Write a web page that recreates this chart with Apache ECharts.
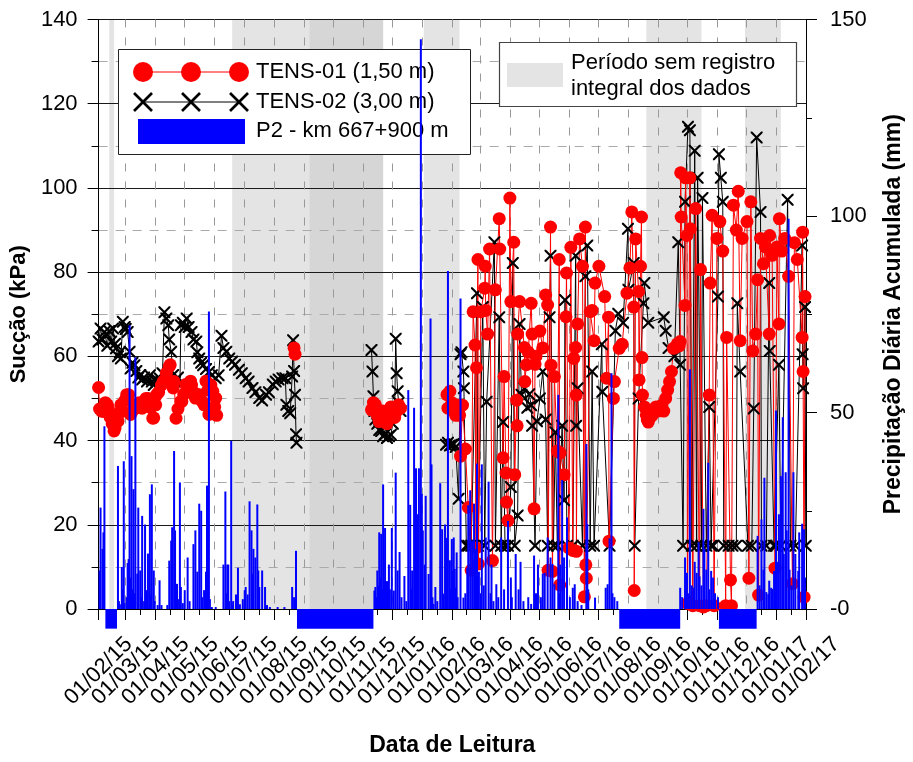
<!DOCTYPE html>
<html><head><meta charset="utf-8">
<script src="https://cdn.jsdelivr.net/npm/echarts@6/dist/echarts.min.js"></script>
<style>html,body{margin:0;padding:0;background:#fff}#c{width:913px;height:762px}</style>
</head><body><div id="c"></div>
<script>
// ---------- DATA ----------
const xStart = '2015-02-01', xEnd = '2017-02-01';
const suctionTicks = [0, 20, 40, 60, 80, 100, 120, 140];
const rainTicks = [0, 50, 100, 150];

// periods without complete record (grey bands)
const bandPeriods = [['2015-02-12','2015-02-17'],['2015-06-19','2015-11-22'],['2016-01-03','2016-02-09'],['2016-08-20','2016-10-16'],['2016-11-30','2017-01-06']];
const bandPeriodsOverlap = [['2015-09-07','2015-11-22']];
// periods without rainfall record (drawn below zero)
const rainGaps = [['2015-02-08','2015-02-20'],['2015-08-25','2015-11-12'],['2016-07-23','2016-09-24'],['2016-11-03','2016-12-12']];

// daily rainfall P2 - km 667+900 (mm)
const rain2015 = [['2015-02-02',9.8],['2015-02-03',25.8],['2015-02-05',15.3],['2015-02-06',19.5],['2015-02-07',46.5],
['2015-02-21',36.4],['2015-02-22',2],['2015-02-23',1.2],['2015-02-25',10.7],['2015-02-26',5],['2015-02-27',37.6],['2015-02-28',1.5],
['2015-03-02',3],['2015-03-03',11.7],['2015-03-04',12.7],['2015-03-05',72.2],['2015-03-06',8],['2015-03-07',38.9],['2015-03-08',5],['2015-03-09',30.5],['2015-03-10',4],['2015-03-11',64],['2015-03-13',9],['2015-03-14',25.8],['2015-03-16',9.8],['2015-03-17',3],['2015-03-18',23.7],['2015-03-20',2],['2015-03-21',21.5],['2015-03-22',4.8],['2015-03-24',14.1],['2015-03-26',29.2],['2015-03-27',3.5],['2015-03-28',31.7],['2015-03-30',9.8],['2015-03-31',2],
['2015-04-03',1],['2015-04-05',7.3],['2015-04-07',1],['2015-04-13',1],['2015-04-15',12.3],['2015-04-17',17.4],['2015-04-18',20.8],['2015-04-20',40.2],['2015-04-21',20],['2015-04-23',6.4],['2015-04-24',2.5],['2015-04-26',32.2],['2015-04-27',5.6],['2015-04-29',1.5],
['2015-05-01',4.8],['2015-05-04',13.1],['2015-05-06',2],['2015-05-10',16.5],['2015-05-12',20],['2015-05-14',9.5],['2015-05-16',26.8],['2015-05-18',25],['2015-05-19',3],['2015-05-21',4.8],['2015-05-23',9.5],['2015-05-24',31.4],['2015-05-26',75.7],['2015-05-27',2.5],['2015-05-29',0.5],
['2015-06-02',0.5],['2015-06-10',11.3],['2015-06-12',29.9],['2015-06-13',4],['2015-06-14',11.3],['2015-06-15',11.3],['2015-06-16',2],['2015-06-18',42.8],['2015-06-19',1],['2015-06-20',2],['2015-06-23',3.7],['2015-06-25',10.5],['2015-06-27',1.2],['2015-06-30',2.5],
['2015-07-02',4.8],['2015-07-03',5.6],['2015-07-05',3.7],['2015-07-07',27.4],['2015-07-09',20],['2015-07-10',9],['2015-07-11',15.3],['2015-07-13',13.1],['2015-07-15',26.6],['2015-07-16',9.8],['2015-07-17',5.6],['2015-07-20',9.8],['2015-07-23',5.6],['2015-07-25',1],['2015-07-28',0.5],
['2015-08-05',0.5],['2015-08-12',0.5],['2015-08-20',5.6],['2015-08-22',3],['2015-08-23',1.5],['2015-08-24',14.8],
['2015-11-13',4.7],['2015-11-14',5.6],['2015-11-15',3],['2015-11-16',9.8],['2015-11-17',6],['2015-11-18',19.5],['2015-11-19',8],['2015-11-20',19.1],['2015-11-21',5],['2015-11-22',31.7],['2015-11-23',7],['2015-11-24',20.6],['2015-11-25',4],['2015-11-26',7.1],['2015-11-27',3],['2015-11-28',11.3],['2015-11-29',5],
['2015-12-01',20.6],['2015-12-03',4.7],['2015-12-05',34.7],['2015-12-07',9.8],['2015-12-09',14.5],['2015-12-11',3],['2015-12-14',8.4],['2015-12-16',2],['2015-12-18',55.7],['2015-12-20',26.5],['2015-12-21',5],['2015-12-22',9.8],['2015-12-24',51.2],['2015-12-25',15],['2015-12-26',35.8],['2015-12-28',24.1],['2015-12-29',35.8],['2015-12-31',145]];
const rain2016 = [['2016-01-01',29.3],['2016-01-02',20],['2016-01-04',11.3],['2016-01-05',28.8],['2016-01-08',8.9],['2016-01-10',73.9],['2016-01-11',36.8],['2016-01-12',3],['2016-01-13',1.3],['2016-01-15',5.6],['2016-01-17',2],['2016-01-20',32],['2016-01-22',20.3],['2016-01-23',3.9],['2016-01-25',21.5],['2016-01-26',8],['2016-01-27',18.1],['2016-01-28',86],['2016-01-30',12.4],['2016-01-31',5],
['2016-02-01',17.8],['2016-02-02',9.8],['2016-02-03',18.2],['2016-02-04',10.2],['2016-02-05',5.4],['2016-02-06',14.4],['2016-02-07',3],['2016-02-10',79],['2016-02-13',2.9],['2016-02-15',4],['2016-02-17',10.5],['2016-02-18',26.4],['2016-02-20',30.2],['2016-02-22',17.4],['2016-02-24',26.8],['2016-02-26',15.3],['2016-02-27',37],['2016-02-29',9.5],
['2016-03-02',4],['2016-03-03',36.8],['2016-03-05',6],['2016-03-07',18.2],['2016-03-10',32.4],['2016-03-12',4],['2016-03-13',11.3],['2016-03-15',2],['2016-03-18',6.3],['2016-03-20',3],['2016-03-23',18.2],['2016-03-26',5],['2016-03-30',22.4],
['2016-04-02',8],['2016-04-03',3],['2016-04-07',14],['2016-04-10',5],['2016-04-12',12],['2016-04-15',2],['2016-04-20',3],['2016-04-23',1.3],['2016-04-26',13.6],['2016-04-28',4],['2016-04-30',11.3],
['2016-05-03',3],['2016-05-05',9],['2016-05-07',9.2],['2016-05-10',18.2],['2016-05-13',13.1],['2016-05-15',11.5],['2016-05-17',6.3],['2016-05-21',54.5],['2016-05-22',4],['2016-05-23',11.3],['2016-05-25',32.8],['2016-05-27',13.1],['2016-05-30',23.3],
['2016-06-02',3],['2016-06-05',5.4],['2016-06-07',6.3],['2016-06-10',2],['2016-06-14',1],['2016-06-19',42],['2016-06-20',21.6],['2016-06-21',5],['2016-06-28',2.9],
['2016-07-09',5.4],['2016-07-11',6.3],['2016-07-13',18],['2016-07-15',60],['2016-07-16',4],['2016-07-18',3],['2016-07-21',2],
['2016-09-24',5.4],['2016-09-26',3],['2016-09-29',13.1],
['2016-10-01',9.2],['2016-10-02',4],['2016-10-04',61],['2016-10-06',6],['2016-10-08',5.4],['2016-10-09',12],['2016-10-11',9.2],['2016-10-13',17],['2016-10-14',8.3],['2016-10-16',6],['2016-10-18',25.5],['2016-10-19',15.3],['2016-10-21',10],['2016-10-23',37.2],['2016-10-24',5],['2016-10-26',9.7],['2016-10-28',8],['2016-10-30',4],['2016-11-02',3],
['2016-12-13',18.6],['2016-12-15',6],['2016-12-17',22.8],['2016-12-19',10],['2016-12-20',33.4],['2016-12-22',4.3],['2016-12-24',3.8],['2016-12-25',7.2],['2016-12-27',5.4],['2016-12-28',5.1],['2016-12-30',9.7],
['2017-01-01',50.5],['2017-01-02',12],['2017-01-04',24.1],['2017-01-06',33.8],['2017-01-08',48.8],['2017-01-09',14],['2017-01-11',34.8],['2017-01-12',20],['2017-01-14',99.3],['2017-01-15',10],['2017-01-17',6],['2017-01-19',34.8],['2017-01-21',14],['2017-01-24',9.7],['2017-01-25',19.5],['2017-01-28',21.7],['2017-01-30',20.3],['2017-01-31',8]];

// TENS-01 (1,50 m) suction, kPa
const tens01A = [['2015-02-01',52.6],['2015-02-02',47.5],['2015-02-04',47],['2015-02-06',46.9],['2015-02-08',49],['2015-02-10',48.5],['2015-02-11',47.8],['2015-02-13',45.5],['2015-02-15',44],['2015-02-17',42.3],['2015-02-18',43],['2015-02-19',45.3],['2015-02-21',44.6],['2015-02-22',46.5],['2015-02-24',48.5],['2015-02-26',47],['2015-02-28',49.5],['2015-03-02',50.9],['2015-03-04',50.9],['2015-03-06',46.2],['2015-03-08',47],['2015-03-10',48.5],['2015-03-13',47.8],['2015-03-15',49],['2015-03-18',47.7],['2015-03-20',48.5],['2015-03-22',50],['2015-03-24',50],['2015-03-27',47.8],['2015-03-29',45.3],['2015-03-30',45.4],['2015-04-01',48.5],['2015-04-02',50.9],['2015-04-04',51.5],['2015-04-07',53.2],['2015-04-09',54.1],['2015-04-12',56],['2015-04-15',57.6],['2015-04-16',58],['2015-04-18',54],['2015-04-19',52.5],['2015-04-20',54],['2015-04-22',45.3],['2015-04-24',47.5],['2015-04-27',49.3],['2015-04-28',49.3],['2015-04-30',51],['2015-05-02',53.3],['2015-05-05',52],['2015-05-07',54.1],['2015-05-08',53.2],['2015-05-10',51.5],['2015-05-12',50.1],['2015-05-14',50.9],['2015-05-16',50.9],['2015-05-19',49.3],['2015-05-21',48.5],['2015-05-23',54.1],['2015-05-25',52],['2015-05-26',46.2],['2015-05-28',53.2],['2015-05-30',51.7],['2015-06-01',48],['2015-06-02',50.1],['2015-06-03',46]];
const tens01B = [['2015-08-22',62],['2015-08-23',60.5]];
const tens01C = [['2015-11-10',47.3],['2015-11-12',49],['2015-11-14',48.5],['2015-11-16',46],['2015-11-18',44.5],['2015-11-20',45],['2015-11-22',47],['2015-11-24',45.5],['2015-11-26',44],['2015-11-28',46.5],['2015-11-30',48],['2015-12-02',47],['2015-12-04',45.5],['2015-12-06',47],['2015-12-08',48.5],['2015-12-10',47.7]];
const tens01D = [['2016-01-27',50.9],['2016-01-28',47.7],['2016-01-30',51.7],['2016-02-01',49],['2016-02-03',47],['2016-02-05',46],['2016-02-07',48.4],['2016-02-09',46],['2016-02-10',36.3],['2016-02-12',48.4],['2016-02-15',38],['2016-02-18',24.1],['2016-02-21',9.2],['2016-02-23',70.6],['2016-02-25',62.7],['2016-02-26',14.5],['2016-02-26 12:00',57.3],['2016-02-28',83],['2016-02-28 12:00',10.7],
['2016-03-02',70.6],['2016-03-06',76.2],['2016-03-06 12:00',81.4],['2016-03-07',70.9],['2016-03-09',65.3],['2016-03-11',85.5],['2016-03-14',11.5],['2016-03-17',75.8],['2016-03-21',92.7],['2016-03-21 12:00',85.5],['2016-03-25',35.9],['2016-03-26',55.2],['2016-03-28',32.3],['2016-03-28 12:00',25.4],['2016-03-30',21],
['2016-04-01',97.6],['2016-04-02',73],['2016-04-05',87.1],['2016-04-06',31.9],['2016-04-08',49.6],['2016-04-08 12:00',43.5],['2016-04-09',65.3],['2016-04-11',73],['2016-04-16',62.1],['2016-04-16 12:00',54],['2016-04-18',58],['2016-04-20',61],['2016-04-23',72.6],['2016-04-24',65.3],['2016-04-26',23.8],['2016-04-27',58.1],['2016-04-28',60],
['2016-05-02',66],['2016-05-05',62],['2016-05-08',74.6],['2016-05-10',72.2],['2016-05-10 12:00',9.2],['2016-05-13',90.7],['2016-05-13 12:00',57.9],['2016-05-15',8.9],['2016-05-17',55.2],['2016-05-20',37.5],['2016-05-22',83],['2016-05-22 12:00',5.7],['2016-05-23',37.1],['2016-05-27',31.9],['2016-05-29',69.4],['2016-05-29 12:00',79.8],
['2016-06-01',14.5],['2016-06-03',85.9],['2016-06-05',13.9],['2016-06-06',59.5],['2016-06-08',62.1],['2016-06-08 12:00',50.8],['2016-06-08 18:00',13.7],['2016-06-10',67.7],['2016-06-12',87.9],['2016-06-15',81.4],['2016-06-17',2.9],['2016-06-18',90.7],['2016-06-18 12:00',10.5],['2016-06-19',7.3],['2016-06-23',70.6],['2016-06-25',70.9],['2016-06-27',63.7],['2016-06-28',77.4],
['2016-07-02',81.4],['2016-07-08',74.2],['2016-07-10',54.8],['2016-07-12',69.3],['2016-07-12 12:00',16.1],['2016-07-17',50],['2016-07-18',54],['2016-07-23',61.9],['2016-07-26',62.9],['2016-07-31',75],
['2016-08-03',81],['2016-08-05',94.3],['2016-08-07',71.7],['2016-08-07 12:00',4.4],['2016-08-09',87.9],['2016-08-12',75.4],['2016-08-12 12:00',54.4],['2016-08-14',81.4],['2016-08-15',93.1],['2016-08-15 12:00',59.7],['2016-08-16',50.8],['2016-08-18',48],['2016-08-20',46.1],['2016-08-21',45],['2016-08-22',44.4],['2016-08-24',45.5],['2016-08-26',46],['2016-08-28',47.5],['2016-08-30',48],
['2016-09-01',47],['2016-09-03',47.5],['2016-09-05',48.4],['2016-09-07',47],['2016-09-09',50],['2016-09-11',52],['2016-09-13',54],['2016-09-15',56.4],['2016-09-17',61.9],['2016-09-19',62.1],['2016-09-21',63],['2016-09-23',62.5],['2016-09-24',63.5],['2016-09-24 12:00',103.6],['2016-09-25',93.1],['2016-09-29',72.1],['2016-09-29 12:00',102.4],
['2016-10-01',88.7],['2016-10-01 12:00',1.3],['2016-10-03',1.6],['2016-10-04',102.4],['2016-10-04 12:00',90.3],['2016-10-07',0.8],['2016-10-10',95.1],['2016-10-14',0.8],['2016-10-15',80.6],['2016-10-18',0.5],['2016-10-21',0.8],['2016-10-24',50.8],['2016-10-25',77.4],['2016-10-27',93.5],['2016-10-29',0.8],
['2016-11-01',88],['2016-11-04',92],['2016-11-07',85],['2016-11-10',0.8],['2016-11-11',64.5],['2016-11-15',6.9],['2016-11-16',0.8],['2016-11-18',95.9],['2016-11-21',90],['2016-11-23',99.2],['2016-11-25',63.7],['2016-11-27',88],
['2016-12-02',92],['2016-12-04',7.3],['2016-12-06',96.7],['2016-12-08',61.3],['2016-12-11',65.3],['2016-12-13',78.2],['2016-12-14',3.3],['2016-12-16',88],['2016-12-19',82],['2016-12-21',86],['2016-12-25',65.3],['2016-12-25 12:00',88.7],['2016-12-28',84],['2016-12-31',9.7],
['2017-01-02',86],['2017-01-04',67.7],['2017-01-04 12:00',92.7],['2017-01-07',85],['2017-01-10',88],['2017-01-14',79],['2017-01-18',6],['2017-01-20',87],['2017-01-23',83],['2017-01-28',64.5],['2017-01-28 12:00',89.5],['2017-01-29',56.4],['2017-01-30',2.8],['2017-01-31',74.2]];

// TENS-02 (3,00 m) suction, kPa
const tens02A = [['2015-02-01',63.5],['2015-02-03',66.6],['2015-02-05',64],['2015-02-07',65.8],['2015-02-10',62.5],['2015-02-12',66],['2015-02-14',63.5],['2015-02-16',66.6],['2015-02-18',63],['2015-02-19',61.9],['2015-02-21',60],['2015-02-23',61],['2015-02-24',59.5],['2015-02-26',68.2],['2015-02-28',67],['2015-03-01',66.5],['2015-03-03',65.8],['2015-03-05',61.1],['2015-03-06',57.1],['2015-03-08',58.5],['2015-03-10',57.9],['2015-03-12',56.5],['2015-03-14',55],['2015-03-16',55.6],['2015-03-18',54.5],['2015-03-20',55],['2015-03-23',54],['2015-03-26',55.5],['2015-03-28',54],['2015-03-30',53.2],['2015-04-02',54.5],['2015-04-05',54.8],['2015-04-08',56],['2015-04-10',70.5],['2015-04-12',69],['2015-04-14',67.4],['2015-04-15',64],['2015-04-17',61.1],['2015-04-19',55.6],['2015-04-21',54],['2015-04-24',55],['2015-04-26',53.2],['2015-04-27',67.4],['2015-04-29',68],['2015-05-01',67],['2015-05-03',69],['2015-05-05',67],['2015-05-08',65.8],['2015-05-10',64],['2015-05-13',63.5],['2015-05-14',61],['2015-05-16',59.5],['2015-05-18',58.5],['2015-05-20',57.9],['2015-05-23',57],['2015-05-26',56.3],['2015-05-29',55.5],['2015-06-02',54.8],['2015-06-05',55.5],['2015-06-08',64.9],['2015-06-10',62],['2015-06-13',61.1],['2015-06-16',59.5],['2015-06-19',58.8],['2015-06-22',58],['2015-06-26',56.8],['2015-06-29',56],['2015-07-03',54.8],['2015-07-06',54],['2015-07-10',52.5],['2015-07-13',51.5],['2015-07-17',50.1],['2015-07-20',49.5],['2015-07-24',50.9],['2015-07-27',51.5],['2015-07-31',53.3],['2015-08-03',54],['2015-08-06',54.5],['2015-08-10',54.8],['2015-08-13',54.8],['2015-08-14',48.5],['2015-08-16',47],['2015-08-18',46.5],['2015-08-20',55.2],['2015-08-21',63.8],['2015-08-22',56.5],['2015-08-23',50.9],['2015-08-24',41.5],['2015-08-24 12:00',39.5]];
const tens02C = [['2015-11-10',61.5],['2015-11-11',56.4],['2015-11-12',50.5],['2015-11-13',47],['2015-11-14',45],['2015-11-16',44],['2015-11-18',42.5],['2015-11-20',42.3],['2015-11-22',41],['2015-11-24',41.5],['2015-11-26',40.6],['2015-11-28',41],['2015-11-30',41.4],['2015-12-02',44],['2015-12-04',47],['2015-12-05',64.2],['2015-12-06',56],['2015-12-07',51.7],['2015-12-08',49],['2015-12-10',47]];
const tens02D = [['2016-01-26',39],['2016-01-28',39.5],['2016-01-30',38.8],['2016-02-01',39],['2016-02-03',39.2],['2016-02-05',38.5],['2016-02-08',26.2],['2016-02-10',60.5],['2016-02-11',61],['2016-02-13',56.4],['2016-02-13 12:00',52.4],['2016-02-16',15],['2016-02-18',15],['2016-02-21',15],['2016-02-23',15],['2016-02-27',75],['2016-02-28',15],
['2016-03-04',71.7],['2016-03-06',15],['2016-03-08',49.2],['2016-03-16',87.1],['2016-03-17',15],['2016-03-21',69.3],['2016-03-23',15],['2016-03-25',44.4],['2016-03-27',15],['2016-03-30',15],
['2016-04-02',29],['2016-04-04',82.2],['2016-04-06',15],['2016-04-09',22.2],['2016-04-11',67.7],['2016-04-13',50.9],['2016-04-16',52.4],['2016-04-19',47.8],['2016-04-21',51],['2016-04-23',48.4],['2016-04-24',43.5],['2016-04-27',15],['2016-04-29',44.6],
['2016-05-02',50],['2016-05-05',56.4],['2016-05-08',45],['2016-05-10',15],['2016-05-12',69.3],['2016-05-13',83.9],['2016-05-16',15],['2016-05-18',42],['2016-05-20',15],['2016-05-25',43.5],['2016-05-27',25.8],['2016-05-28',73.4],['2016-05-30',15],
['2016-06-05',15],['2016-06-08',83.9],['2016-06-08 12:00',43.5],['2016-06-10',52.4],['2016-06-15',15],['2016-06-18',79],['2016-06-20',86.3],['2016-06-23',15],['2016-06-25',56.4],['2016-06-27',15],
['2016-07-05',62.9],['2016-07-05 12:00',51.6],['2016-07-13',15],['2016-07-19',66.1],['2016-07-22',70.1],['2016-07-27',68],
['2016-08-01',90.3],['2016-08-01 12:00',75.8],['2016-08-07',82.2],['2016-08-08',15],['2016-08-12',50],['2016-08-17',72.6],['2016-08-18',77.4],['2016-08-22',68],
['2016-09-07',69.3],['2016-09-09',66.1],['2016-09-12',62],['2016-09-18',60],['2016-09-22',87.1],['2016-09-24',58],['2016-09-27',15],['2016-09-29',96.7],
['2016-10-02',114.5],['2016-10-04',113.7],['2016-10-06',15],['2016-10-09',108.8],['2016-10-11',15],['2016-10-12',102.4],['2016-10-16',15],['2016-10-17',97.6],['2016-10-21',15],['2016-10-24',48],['2016-10-26',15],['2016-10-28',15],
['2016-11-02',74.2],['2016-11-03',108],['2016-11-05',102.4],['2016-11-07',96.7],['2016-11-08',15],['2016-11-13',15],['2016-11-17',15],['2016-11-21',15],['2016-11-22',72.6],['2016-11-25',56.4],
['2016-12-03',15],['2016-12-07',15],['2016-12-09',47.6],['2016-12-12',112],['2016-12-16',94.3],['2016-12-17',15],['2016-12-22',15],['2016-12-25',77.4],['2016-12-25 12:00',61.3],['2016-12-30',15],
['2017-01-01',15],['2017-01-04',58],['2017-01-06',15],['2017-01-13',97.2],['2017-01-16',15],['2017-01-21',15],['2017-01-28',86.3],['2017-01-28 12:00',60.5],['2017-01-29',52.4],['2017-01-31',71.7],['2017-01-31 18:00',15]];

const legendTexts = ['TENS-01 (1,50 m)', 'TENS-02 (3,00 m)', 'P2 - km 667+900 m'];
const bandLegendLines = ['Período sem registro', 'integral dos dados'];

// ---------- BUILD ----------
const FONT = '"Liberation Sans", Arial, sans-serif';
const parse = s => echarts.time.parse(s).getTime();
function joinPeriods(periods) {
  const out = [];
  periods.forEach((p, i) => {
    if (i > 0) {
      const a = parse(periods[i - 1][periods[i - 1].length - 1][0]);
      const b = parse(p[0][0]);
      out.push([(a + b) / 2, null]);
    }
    p.forEach(d => out.push(d));
  });
  return out;
}
const xMark = 'path://M0,0L2.5,0L10,7.5L17.5,0L20,0L20,2.5L12.5,10L20,17.5L20,20L17.5,20L10,12.5L2.5,20L0,20L0,17.5L7.5,10L0,2.5Z';

function bandSeries(data, fill, z) {
  return {
    type: 'custom', silent: true, z: z, xAxisIndex: 0, yAxisIndex: 0,
    dimensions: [{name: 's', type: 'time'}, {name: 'e', type: 'time'}],
    encode: {x: [0, 1]},
    data: data,
    renderItem: (params, api) => {
      const a = api.coord([api.value(0), suctionTicks[suctionTicks.length - 1]]);
      const b = api.coord([api.value(1), 0]);
      return {type: 'rect', shape: {x: a[0], y: a[1], width: b[0] - a[0], height: b[1] - a[1]}, style: {fill: fill}};
    }
  };
}

const G = [];
const LZ = 1;
G.push({type: 'rect', z: LZ, z2: 0, shape: {x: 118.5, y: 49.5, width: 352, height: 105}, style: {fill: '#fff', stroke: '#222', lineWidth: 1}});
G.push({type: 'line', z: LZ, z2: 1, shape: {x1: 143, y1: 72, x2: 239, y2: 72}, style: {stroke: '#ff0000', lineWidth: 1}});
[143, 191, 239].forEach(x => G.push({type: 'circle', z: LZ, z2: 2, shape: {cx: x, cy: 72, r: 10}, style: {fill: '#ff0000'}}));
G.push({type: 'line', z: LZ, z2: 1, shape: {x1: 143, y1: 102, x2: 239, y2: 102}, style: {stroke: '#000', lineWidth: 1}});
[143, 191, 239].forEach(x => {
  G.push({type: 'line', z: LZ, z2: 2, shape: {x1: x - 9, y1: 93, x2: x + 9, y2: 111}, style: {stroke: '#000', lineWidth: 2.6}});
  G.push({type: 'line', z: LZ, z2: 2, shape: {x1: x - 9, y1: 111, x2: x + 9, y2: 93}, style: {stroke: '#000', lineWidth: 2.6}});
});
G.push({type: 'rect', z: LZ, z2: 2, shape: {x: 138, y: 119, width: 107, height: 25}, style: {fill: '#0000ff'}});
[72, 102, 131].forEach((y, i) => G.push({type: 'text', z: LZ, z2: 3, x: 256, y: y, style: {text: legendTexts[i], fontSize: 22, fontFamily: FONT, fill: '#000', verticalAlign: 'middle'}}));
G.push({type: 'rect', z: LZ, z2: 0, shape: {x: 499.5, y: 42.5, width: 297, height: 64}, style: {fill: '#fff', stroke: '#444', lineWidth: 1.2}});
G.push({type: 'rect', z: LZ, z2: 1, shape: {x: 507, y: 63, width: 56, height: 24}, style: {fill: '#e4e4e4'}});
[63, 88.5].forEach((y, i) => G.push({type: 'text', z: LZ, z2: 3, x: 571, y: y, style: {text: bandLegendLines[i], fontSize: 22, fontFamily: FONT, fill: '#000', verticalAlign: 'middle'}}));

const pad = n => (n < 10 ? '0' : '') + n;
const DAY = 86400000;

const option = {
  animation: false,
  backgroundColor: '#fff',
  textStyle: {fontFamily: FONT},
  grid: {left: 97, right: 103, top: 19.5, bottom: 150, containLabel: false},
  xAxis: {
    type: 'time', min: xStart, max: xEnd, splitNumber: 24,
    minInterval: 28 * DAY, maxInterval: 31 * DAY,
    name: 'Data de Leitura', nameLocation: 'middle', nameGap: 125,
    nameTextStyle: {fontSize: 23, fontWeight: 'bold', color: '#000', fontFamily: FONT},
    axisLine: {show: true, onZero: false, lineStyle: {color: '#000', width: 1}},
    axisTick: {show: true, length: 11, lineStyle: {color: '#000'}},
    minorTick: {show: true, splitNumber: 2, length: 6, lineStyle: {color: '#000'}},
    splitLine: {show: true, lineStyle: {color: '#999', width: 1, type: [8, 10]}},
    axisLabel: {
      show: true, rotate: 45, align: 'center', verticalAlign: 'middle', margin: 62,
      fontSize: 22, color: '#000', fontFamily: FONT, showMinLabel: true, showMaxLabel: true, hideOverlap: false,
      formatter: v => { const d = new Date(v); return pad(d.getDate()) + '/' + pad(d.getMonth() + 1) + '/' + String(d.getFullYear()).slice(2); }
    }
  },
  yAxis: [{
    type: 'value', position: 'left', min: suctionTicks[0], max: suctionTicks[suctionTicks.length - 1], interval: 20,
    name: 'Sucção (kPa)', nameLocation: 'middle', nameGap: 68,
    nameTextStyle: {fontSize: 22, fontWeight: 'bold', color: '#000', fontFamily: FONT},
    axisLine: {show: true, lineStyle: {color: '#000', width: 1}},
    axisTick: {show: true, length: 11, lineStyle: {color: '#000'}},
    minorTick: {show: true, splitNumber: 2, length: 7, lineStyle: {color: '#000'}},
    splitLine: {show: true, lineStyle: {color: '#1a1a1a', width: 1}},
    minorSplitLine: {show: true, lineStyle: {color: '#aaa', width: 1, type: [9, 8]}},
    axisLabel: {fontSize: 22, color: '#000', margin: 21, fontFamily: FONT}
  }, {
    type: 'value', position: 'right', min: rainTicks[0], max: rainTicks[rainTicks.length - 1], interval: 50,
    name: 'Precipitação Diária Acumulada (mm)', nameLocation: 'middle', nameGap: 76,
    nameTextStyle: {fontSize: 23, fontWeight: 'bold', color: '#000', fontFamily: FONT},
    axisLine: {show: true, lineStyle: {color: '#000', width: 1}},
    axisTick: {show: true, length: 11, lineStyle: {color: '#000'}},
    minorTick: {show: true, splitNumber: 2, length: 6, lineStyle: {color: '#000'}},
    splitLine: {show: false},
    axisLabel: {fontSize: 22, color: '#000', margin: 24, fontFamily: FONT, formatter: v => (v === 0 ? '-0' : String(v))}
  }],
  graphic: {elements: G},
  series: [
    bandSeries(bandPeriods, '#e4e4e4', -2),
    bandSeries(bandPeriodsOverlap, '#d6d6d6', -1),
    {
      name: 'TENS-02 (3,00 m)', type: 'line', yAxisIndex: 0, z: 2,
      data: joinPeriods([tens02A, tens02C, tens02D]),
      symbol: xMark, symbolSize: 12, showSymbol: true, showAllSymbol: true, connectNulls: false,
      itemStyle: {color: '#000'}, lineStyle: {color: '#000', width: 1}
    },
    {
      name: 'TENS-01 (1,50 m)', type: 'line', yAxisIndex: 0, z: 2,
      data: joinPeriods([tens01A, tens01B, tens01C, tens01D]),
      symbol: 'circle', symbolSize: 13, showSymbol: true, showAllSymbol: true, connectNulls: false,
      itemStyle: {color: '#ff0000'}, lineStyle: {color: '#ff0000', width: 1}
    },
    {
      name: 'P2 - km 667+900 m', type: 'custom', yAxisIndex: 1, z: 3, silent: true,
      dimensions: [{name: 'date', type: 'time'}, {name: 'mm', type: 'float'}],
      encode: {x: 0, y: 1},
      data: rain2015.concat(rain2016),
      renderItem: (params, api) => {
        const top = api.coord([api.value(0), api.value(1)]);
        const base = api.coord([api.value(0), 0]);
        return {type: 'rect', shape: {x: top[0] - 1, y: top[1], width: 2, height: base[1] - top[1]}, style: {fill: '#0000ff'}};
      }
    },
    {
      type: 'custom', silent: true, z: 3, xAxisIndex: 0, yAxisIndex: 1, clip: false,
      dimensions: [{name: 's', type: 'time'}, {name: 'e', type: 'time'}],
      encode: {x: [0, 1]},
      data: rainGaps,
      renderItem: (params, api) => {
        const a = api.coord([api.value(0), 0]);
        const b = api.coord([api.value(1), -5]);
        return {type: 'rect', shape: {x: a[0], y: a[1], width: b[0] - a[0], height: b[1] - a[1]}, style: {fill: '#0000ff'}};
      }
    }
  ]
};
const chart = echarts.init(document.getElementById('c'));
chart.setOption(option);
</script></body></html>
